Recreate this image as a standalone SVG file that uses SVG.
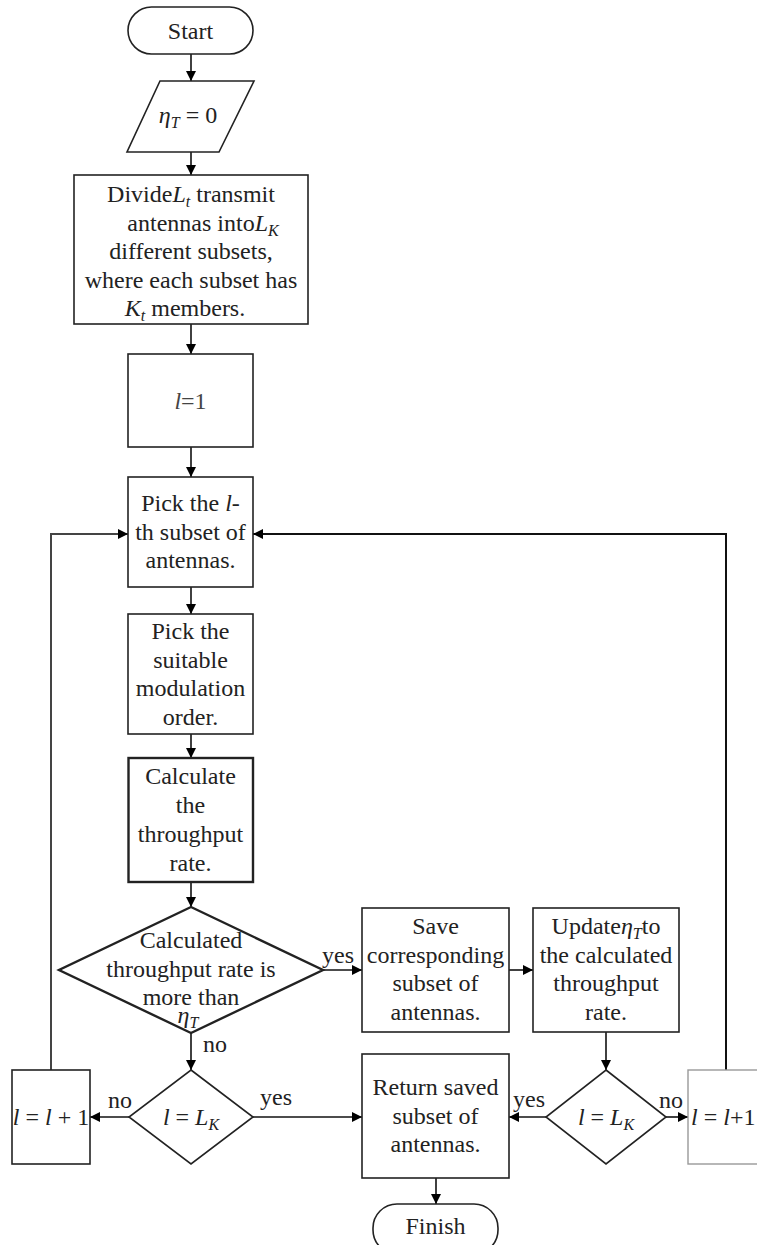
<svg xmlns="http://www.w3.org/2000/svg" width="757" height="1245" viewBox="0 0 757 1245">
<defs>
<style>
text{font-family:"Liberation Serif","Times New Roman",serif;font-size:24px;fill:#222;text-anchor:middle}
.m{font-style:italic}
.s{font-size:16px;font-style:italic}
.b{fill:#fff;stroke:#222;stroke-width:1.6}
.bt{fill:#fff;stroke:#222;stroke-width:2.4}
.c{fill:none;stroke:#111;stroke-width:1.6}
.lb{text-anchor:start}
</style>
<marker id="ah" viewBox="0 0 10 10" refX="10" refY="5" markerWidth="10" markerHeight="10" markerUnits="userSpaceOnUse" orient="auto">
<path d="M0,0 L10,5 L0,10 Z" fill="#000"/>
</marker>
</defs>
<rect width="757" height="1245" fill="#fff"/>

<g id="connectors">
<line class="c" x1="191" y1="54" x2="191" y2="81" marker-end="url(#ah)"/>
<line class="c" x1="191" y1="152" x2="191" y2="175" marker-end="url(#ah)"/>
<line class="c" x1="191" y1="324" x2="191" y2="354" marker-end="url(#ah)"/>
<line class="c" x1="191" y1="447" x2="191" y2="477" marker-end="url(#ah)"/>
<line class="c" x1="191" y1="587" x2="191" y2="614" marker-end="url(#ah)"/>
<line class="c" x1="191" y1="734" x2="191" y2="758" marker-end="url(#ah)"/>
<line class="c" x1="191" y1="882" x2="191" y2="907" marker-end="url(#ah)"/>
<line class="c" x1="323" y1="970" x2="362" y2="970" marker-end="url(#ah)"/>
<line class="c" x1="509" y1="970" x2="533" y2="970" marker-end="url(#ah)"/>
<line class="c" x1="191" y1="1033" x2="191" y2="1070" marker-end="url(#ah)"/>
<line class="c" x1="606" y1="1032" x2="606" y2="1070" marker-end="url(#ah)"/>
<line class="c" x1="129" y1="1117" x2="90" y2="1117" marker-end="url(#ah)"/>
<line class="c" x1="253" y1="1117" x2="362" y2="1117" marker-end="url(#ah)"/>
<line class="c" x1="546" y1="1117" x2="509" y2="1117" marker-end="url(#ah)"/>
<line class="c" x1="666" y1="1117" x2="688" y2="1117" marker-end="url(#ah)"/>
<line class="c" x1="436" y1="1178" x2="436" y2="1204" marker-end="url(#ah)"/>
<polyline fill="none" stroke="#444" stroke-width="2" points="51,1070 51,534 128,534" marker-end="url(#ah)"/>
<polyline fill="none" stroke="#111" stroke-width="2" points="726,1070 726,534 253,534" marker-end="url(#ah)"/>
<text class="lb" x="322" y="963">yes</text>
<text class="lb" x="203" y="1052">no</text>
<text class="lb" x="108" y="1108">no</text>
<text class="lb" x="260" y="1105">yes</text>
<text class="lb" x="513" y="1107">yes</text>
<text class="lb" x="659" y="1108">no</text>
</g>

<g id="start">
<rect class="b" x="128" y="7" width="125" height="47" rx="23.5"/>
<text x="190.5" y="39">Start</text>
</g>

<g id="init">
<polygon class="b" points="160,81 254,81 219,152 127,152"/>
<text x="188" y="123"><tspan class="m">η</tspan><tspan class="s" dy="5">T</tspan><tspan dy="-5"> = 0</tspan></text>
</g>

<g id="divide">
<rect class="b" x="74" y="175" width="234" height="149"/>
<text x="191" y="202">Divide<tspan class="m">L</tspan><tspan class="s" dy="5">t</tspan><tspan dy="-5"> transmit</tspan></text>
<text x="203" y="231">antennas into<tspan class="m">L</tspan><tspan class="s" dy="5">K</tspan></text>
<text x="191" y="259">different subsets,</text>
<text x="191" y="288">where each subset has</text>
<text x="185" y="316"><tspan class="m">K</tspan><tspan class="s" dy="5">t</tspan><tspan dy="-5"> members.</tspan></text>
</g>

<g id="l1">
<rect class="b" x="128" y="354" width="125" height="93"/>
<text x="190.5" y="409" style="fill:#444"><tspan class="m">l</tspan>=1</text>
</g>

<g id="pick-subset">
<rect class="b" x="128" y="477" width="125" height="110"/>
<text x="190.5" y="511">Pick the <tspan class="m">l</tspan>-</text>
<text x="190.5" y="540">th subset of</text>
<text x="190.5" y="568">antennas.</text>
</g>

<g id="pick-mod">
<rect class="b" x="128" y="614" width="125" height="120"/>
<text x="190.5" y="639">Pick the</text>
<text x="190.5" y="668">suitable</text>
<text x="190.5" y="696">modulation</text>
<text x="190.5" y="725">order.</text>
</g>

<g id="calc">
<rect class="bt" x="128.5" y="758" width="124.5" height="124"/>
<text x="190.5" y="784">Calculate</text>
<text x="190.5" y="813">the</text>
<text x="190.5" y="842">throughput</text>
<text x="190.5" y="871">rate.</text>
</g>

<g id="decision1">
<polygon class="bt" points="191,907 323,970 191,1033 59,970"/>
<text x="191" y="948">Calculated</text>
<text x="191" y="977">throughput rate is</text>
<text x="191" y="1005">more than</text>
<text x="188" y="1023"><tspan class="m">η</tspan><tspan class="s" dy="5">T</tspan></text>
</g>

<g id="save">
<rect class="b" x="362" y="908" width="147" height="124"/>
<text x="435.5" y="934">Save</text>
<text x="435.5" y="963">corresponding</text>
<text x="435.5" y="991">subset of</text>
<text x="435.5" y="1020">antennas.</text>
</g>

<g id="update">
<rect class="b" x="533" y="908" width="146" height="124"/>
<text x="606" y="934">Update<tspan class="m">η</tspan><tspan class="s" dy="5">T</tspan><tspan dy="-5">to</tspan></text>
<text x="606" y="963">the calculated</text>
<text x="606" y="991">throughput</text>
<text x="606" y="1020">rate.</text>
</g>

<g id="decision2">
<polygon class="b" points="191,1070 253,1117 191,1164 129,1117"/>
<text x="191" y="1125"><tspan class="m">l</tspan> = <tspan class="m">L</tspan><tspan class="s" dy="5">K</tspan></text>
</g>

<g id="inc-left">
<rect class="b" x="12" y="1070" width="78" height="94"/>
<text x="51" y="1125"><tspan class="m">l</tspan> = <tspan class="m">l</tspan> + 1</text>
</g>

<g id="return">
<rect class="b" x="362" y="1054" width="147" height="124"/>
<text x="435.5" y="1095">Return saved</text>
<text x="435.5" y="1124">subset of</text>
<text x="435.5" y="1152">antennas.</text>
</g>

<g id="decision3">
<polygon class="b" points="606,1070 666,1117 606,1164 546,1117"/>
<text x="606" y="1125"><tspan class="m">l</tspan> = <tspan class="m">L</tspan><tspan class="s" dy="5">K</tspan></text>
</g>

<g id="inc-right">
<rect x="688" y="1070" width="80" height="94" fill="#fff" stroke="#999" stroke-width="1.4"/>
<text class="lb" x="691" y="1125"><tspan class="m">l</tspan> = <tspan class="m">l</tspan>+1</text>
</g>

<g id="finish">
<rect class="b" x="373" y="1204" width="125" height="50" rx="24"/>
<text x="435.5" y="1234">Finish</text>
</g>
</svg>
